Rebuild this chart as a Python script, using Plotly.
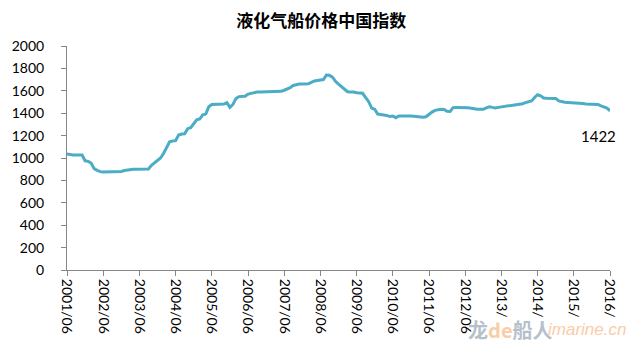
import plotly.graph_objects as go

# Monthly LPG carrier price index, 2001/06 .. 2016/06 (one row per year from June)
index_values = [
    1036, 1030, 1027, 1027, 1027, 1027, 975, 970, 955, 905, 890, 878,
    875, 875, 875, 875, 875, 876, 880, 888, 892, 899, 900, 900,
    900, 900, 900, 902, 935, 955, 975, 1000, 1040, 1100, 1145, 1152,
    1155, 1205, 1214, 1216, 1262, 1270, 1300, 1340, 1348, 1385, 1392, 1458,
    1478, 1480, 1480, 1480, 1482, 1494, 1452, 1478, 1530, 1548, 1550, 1552,
    1570, 1578, 1585, 1589, 1590, 1590, 1590, 1590, 1590, 1590, 1590, 1595,
    1605, 1615, 1628, 1648, 1656, 1660, 1660, 1660, 1662, 1675, 1688, 1692,
    1696, 1700, 1740, 1738, 1722, 1685, 1660, 1640, 1620, 1592, 1589, 1589,
    1582, 1580, 1578, 1540, 1503, 1445, 1435, 1392, 1385, 1384, 1380, 1370,
    1375, 1360, 1375, 1376, 1376, 1376, 1375, 1372, 1368, 1365, 1364, 1368,
    1390, 1410, 1425, 1434, 1436, 1434, 1418, 1415, 1450, 1452, 1452, 1451,
    1450, 1448, 1445, 1438, 1436, 1436, 1435, 1448, 1458, 1452, 1447, 1452,
    1456, 1458, 1460, 1468, 1474, 1476, 1477, 1485, 1494, 1500, 1510, 1540,
    1565, 1556, 1536, 1533, 1533, 1533, 1532, 1510, 1502, 1498, 1496, 1495,
    1492, 1490, 1488, 1486, 1482, 1481, 1480, 1479, 1478, 1465, 1455, 1445,
    1422,
]
month_index = list(range(len(index_values)))

tick_positions = list(range(0, 181, 12))
tick_labels = [
    "2001/06", "2002/06", "2003/06", "2004/06", "2005/06", "2006/06",
    "2007/06", "2008/06", "2009/06", "2010/06", "2011/06", "2012/06",
    "2013/", "2014/", "2015/", "2016/",
]

title_text = "液化气船价格中国指数"
last_value = index_values[-1]

axis_grey = "#868686"
tick_font = dict(family="Lato, Liberation Sans, sans-serif", size=14, color="#000000")

fig = go.Figure()
fig.add_trace(go.Scatter(
    x=month_index,
    y=index_values,
    mode="lines",
    line=dict(color="#4BACC6", width=3),
    hoverinfo="skip",
    showlegend=False,
))

# End-of-series value label
fig.add_annotation(
    x=month_index[-1], y=last_value,
    text=str(last_value),
    showarrow=False,
    xanchor="center", yanchor="top",
    xshift=-12, yshift=-14,
    font=dict(family="Lato, Liberation Sans, sans-serif", size=15, color="#000000"),
)

# Site watermark
fig.add_annotation(
    xref="paper", yref="paper", x=0.735, y=-0.265,
    xanchor="left", yanchor="middle",
    text="<b><span style='color:#A9B6C2'>龙</span><span style='color:#F9C59A'>de</span><span style='color:#A9B6C2'>船人</span></b>",
    showarrow=False, opacity=0.85,
    font=dict(family="Noto Sans CJK SC, sans-serif", size=20),
)
fig.add_annotation(
    xref="paper", yref="paper", x=0.882, y=-0.265,
    xanchor="left", yanchor="middle",
    text="<i>imarine.cn</i>",
    showarrow=False, opacity=0.85,
    font=dict(family="Liberation Sans, sans-serif", size=17, color="#F9C59A"),
)

fig.update_layout(
    width=631, height=346, autosize=False,
    margin=dict(l=62, r=17, t=46, b=76),
    paper_bgcolor="#FFFFFF", plot_bgcolor="#FFFFFF",
    title=dict(
        text="<b>" + title_text + "</b>",
        x=0.509, xanchor="center",
        y=1 - 21 / 346, yanchor="middle",
        font=dict(family="Noto Sans CJK SC, sans-serif", size=17, color="#000000"),
    ),
)
fig.update_xaxes(
    range=[0, 180],
    tickvals=tick_positions, ticktext=tick_labels,
    tickangle=90,
    showline=True, linecolor=axis_grey, linewidth=1,
    ticks="outside", ticklen=5, tickcolor=axis_grey,
    showgrid=False, zeroline=False,
    tickfont=tick_font,
)
fig.update_yaxes(
    range=[0, 2000], dtick=200,
    showline=True, linecolor=axis_grey, linewidth=1,
    ticks="outside", ticklen=5, tickcolor=axis_grey,
    ticklabelstandoff=14,
    showgrid=False, zeroline=False,
    tickfont=tick_font,
)

fig.write_html("out.html")
